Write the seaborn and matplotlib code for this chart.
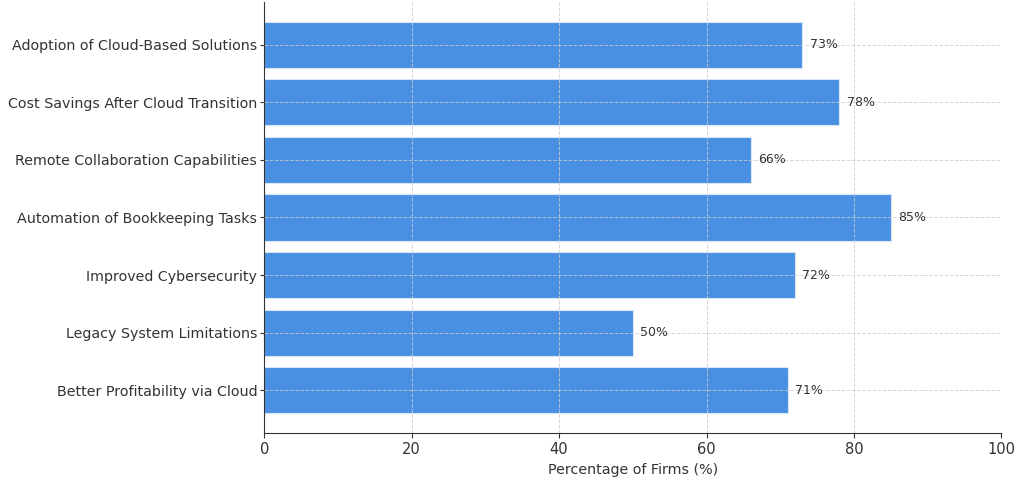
import matplotlib
matplotlib.use('Agg')
import matplotlib.pyplot as plt
import seaborn as sns
import pandas as pd

categories = [
    'Adoption of Cloud-Based Solutions',
    'Cost Savings After Cloud Transition',
    'Remote Collaboration Capabilities',
    'Automation of Bookkeeping Tasks',
    'Improved Cybersecurity',
    'Legacy System Limitations',
    'Better Profitability via Cloud',
]
percentages = [73, 78, 66, 85, 72, 50, 71]

df = pd.DataFrame({'Category': categories, 'Percentage': percentages})

sns.set_style('ticks')
plt.rcParams['font.family'] = ['DejaVu Sans']
plt.rcParams['text.color'] = '#333333'
plt.rcParams['axes.labelcolor'] = '#333333'
plt.rcParams['xtick.color'] = '#333333'
plt.rcParams['ytick.color'] = '#333333'

fig, ax = plt.subplots(figsize=(10.24, 4.78), dpi=100)

sns.barplot(data=df, x='Percentage', y='Category', orient='h', color='#4a90e2',
            saturation=1, width=0.8, edgecolor='#d8e6f7', linewidth=0.8, ax=ax)

for i, v in enumerate(percentages):
    ax.text(v + 1, i, f'{v}%', va='center', ha='left', fontsize=9, color='#333333')

ax.set_xlim(0, 100)
ax.set_ylim(6.74, -0.74)
ax.set_xlabel('Percentage of Firms (%)', fontsize=10.3)
ax.set_ylabel('')
ax.tick_params(axis='y', labelsize=10.3, length=3, pad=2)
ax.tick_params(axis='x', labelsize=10.5, length=3.5, pad=3)
ax.grid(True, linestyle='--', color='#cccccc', linewidth=0.7, alpha=0.8)
ax.set_axisbelow(False)
for s in ['top', 'right']:
    ax.spines[s].set_visible(False)
for s in ['left', 'bottom']:
    ax.spines[s].set_color('#333333')
    ax.spines[s].set_zorder(5)

fig.subplots_adjust(left=0.258, right=0.978, top=0.996, bottom=0.094)
fig.savefig('out.png', dpi=100)
